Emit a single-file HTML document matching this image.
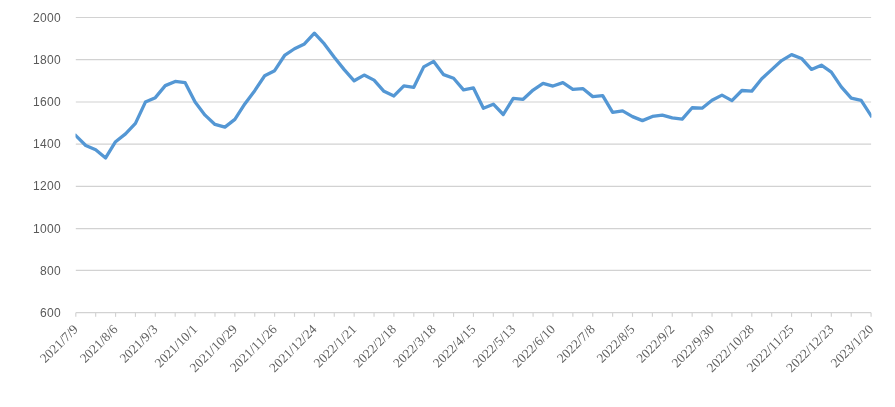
<!DOCTYPE html>
<html><head><meta charset="utf-8"><title>chart</title>
<style>
html,body{margin:0;padding:0;background:#fff;}
body{width:895px;height:407px;overflow:hidden;}
svg{display:block;will-change:transform;}
.yl{font-family:"Liberation Sans",sans-serif;font-size:12px;letter-spacing:0.35px;fill:#595959;text-anchor:end;}
.xl{font-family:"Liberation Serif",serif;font-size:13.3px;fill:#606060;text-anchor:end;}
</style></head><body>
<svg width="895" height="407" viewBox="0 0 895 407">
<rect width="895" height="407" fill="#ffffff"/>
<g stroke="#d2d2d2" stroke-width="1.15" fill="none">
<line x1="75.80" y1="17.50" x2="871.10" y2="17.50"/>
<line x1="75.80" y1="59.65" x2="871.10" y2="59.65"/>
<line x1="75.80" y1="102.00" x2="871.10" y2="102.00"/>
<line x1="75.80" y1="144.10" x2="871.10" y2="144.10"/>
<line x1="75.80" y1="186.40" x2="871.10" y2="186.40"/>
<line x1="75.80" y1="228.55" x2="871.10" y2="228.55"/>
<line x1="75.80" y1="270.35" x2="871.10" y2="270.35"/>
<line x1="75.80" y1="312.60" x2="871.10" y2="312.60"/>
<line x1="75.80" y1="312.65" x2="75.80" y2="316.85"/>
<line x1="95.68" y1="312.65" x2="95.68" y2="316.85"/>
<line x1="115.56" y1="312.65" x2="115.56" y2="316.85"/>
<line x1="135.45" y1="312.65" x2="135.45" y2="316.85"/>
<line x1="155.33" y1="312.65" x2="155.33" y2="316.85"/>
<line x1="175.21" y1="312.65" x2="175.21" y2="316.85"/>
<line x1="195.09" y1="312.65" x2="195.09" y2="316.85"/>
<line x1="214.98" y1="312.65" x2="214.98" y2="316.85"/>
<line x1="234.86" y1="312.65" x2="234.86" y2="316.85"/>
<line x1="254.74" y1="312.65" x2="254.74" y2="316.85"/>
<line x1="274.62" y1="312.65" x2="274.62" y2="316.85"/>
<line x1="294.51" y1="312.65" x2="294.51" y2="316.85"/>
<line x1="314.39" y1="312.65" x2="314.39" y2="316.85"/>
<line x1="334.27" y1="312.65" x2="334.27" y2="316.85"/>
<line x1="354.16" y1="312.65" x2="354.16" y2="316.85"/>
<line x1="374.04" y1="312.65" x2="374.04" y2="316.85"/>
<line x1="393.92" y1="312.65" x2="393.92" y2="316.85"/>
<line x1="413.80" y1="312.65" x2="413.80" y2="316.85"/>
<line x1="433.69" y1="312.65" x2="433.69" y2="316.85"/>
<line x1="453.57" y1="312.65" x2="453.57" y2="316.85"/>
<line x1="473.45" y1="312.65" x2="473.45" y2="316.85"/>
<line x1="493.33" y1="312.65" x2="493.33" y2="316.85"/>
<line x1="513.22" y1="312.65" x2="513.22" y2="316.85"/>
<line x1="533.10" y1="312.65" x2="533.10" y2="316.85"/>
<line x1="552.98" y1="312.65" x2="552.98" y2="316.85"/>
<line x1="572.86" y1="312.65" x2="572.86" y2="316.85"/>
<line x1="592.75" y1="312.65" x2="592.75" y2="316.85"/>
<line x1="612.63" y1="312.65" x2="612.63" y2="316.85"/>
<line x1="632.51" y1="312.65" x2="632.51" y2="316.85"/>
<line x1="652.39" y1="312.65" x2="652.39" y2="316.85"/>
<line x1="672.27" y1="312.65" x2="672.27" y2="316.85"/>
<line x1="692.16" y1="312.65" x2="692.16" y2="316.85"/>
<line x1="712.04" y1="312.65" x2="712.04" y2="316.85"/>
<line x1="731.92" y1="312.65" x2="731.92" y2="316.85"/>
<line x1="751.80" y1="312.65" x2="751.80" y2="316.85"/>
<line x1="771.69" y1="312.65" x2="771.69" y2="316.85"/>
<line x1="791.57" y1="312.65" x2="791.57" y2="316.85"/>
<line x1="811.45" y1="312.65" x2="811.45" y2="316.85"/>
<line x1="831.33" y1="312.65" x2="831.33" y2="316.85"/>
<line x1="851.22" y1="312.65" x2="851.22" y2="316.85"/>
<line x1="871.10" y1="312.65" x2="871.10" y2="316.85"/>
</g>
<g class="yl">
<text x="61.15" y="21.85">2000</text>
<text x="61.15" y="64.01">1800</text>
<text x="61.15" y="106.16">1600</text>
<text x="61.15" y="148.32">1400</text>
<text x="61.15" y="190.48">1200</text>
<text x="61.15" y="232.64">1000</text>
<text x="61.15" y="274.79">800</text>
<text x="61.15" y="316.95">600</text>
</g>
<g class="xl">
<text transform="translate(78.80,330.15) rotate(-45)">2021/7/9</text>
<text transform="translate(118.56,330.15) rotate(-45)">2021/8/6</text>
<text transform="translate(158.33,330.15) rotate(-45)">2021/9/3</text>
<text transform="translate(198.09,330.15) rotate(-45)">2021/10/1</text>
<text transform="translate(237.86,330.15) rotate(-45)">2021/10/29</text>
<text transform="translate(277.62,330.15) rotate(-45)">2021/11/26</text>
<text transform="translate(317.39,330.15) rotate(-45)">2021/12/24</text>
<text transform="translate(357.16,330.15) rotate(-45)">2022/1/21</text>
<text transform="translate(396.92,330.15) rotate(-45)">2022/2/18</text>
<text transform="translate(436.69,330.15) rotate(-45)">2022/3/18</text>
<text transform="translate(476.45,330.15) rotate(-45)">2022/4/15</text>
<text transform="translate(516.22,330.15) rotate(-45)">2022/5/13</text>
<text transform="translate(555.98,330.15) rotate(-45)">2022/6/10</text>
<text transform="translate(595.75,330.15) rotate(-45)">2022/7/8</text>
<text transform="translate(635.51,330.15) rotate(-45)">2022/8/5</text>
<text transform="translate(675.27,330.15) rotate(-45)">2022/9/2</text>
<text transform="translate(715.04,330.15) rotate(-45)">2022/9/30</text>
<text transform="translate(754.80,330.15) rotate(-45)">2022/10/28</text>
<text transform="translate(794.57,330.15) rotate(-45)">2022/11/25</text>
<text transform="translate(834.33,330.15) rotate(-45)">2022/12/23</text>
<text transform="translate(874.10,330.15) rotate(-45)">2023/1/20</text>
</g>
<clipPath id="pc"><rect x="75.50" y="0" width="795.90" height="330"/></clipPath>
<polyline clip-path="url(#pc)" points="75.80,135.59 85.74,145.50 95.68,149.71 105.62,157.93 115.56,141.70 125.51,133.90 135.45,123.36 145.39,102.08 155.33,97.65 165.27,85.63 175.21,81.42 185.15,82.68 195.09,102.08 205.04,115.14 214.98,124.42 224.92,127.16 234.86,119.36 244.80,103.97 254.74,90.69 264.68,75.73 274.62,70.67 284.57,55.49 294.51,48.75 304.45,43.90 314.39,33.15 324.33,43.90 334.27,57.18 344.21,69.61 354.16,80.79 364.10,75.09 374.04,80.15 383.98,91.32 393.92,95.96 403.86,85.84 413.80,87.32 423.74,66.87 433.69,61.39 443.63,74.67 453.57,78.26 463.51,89.85 473.45,87.95 483.39,108.19 493.33,104.18 503.27,114.51 513.22,98.28 523.16,99.33 533.10,90.06 543.04,83.32 552.98,86.06 562.92,82.68 572.86,89.43 582.80,88.58 592.75,96.59 602.69,95.54 612.63,112.40 622.57,110.93 632.51,116.62 642.45,120.62 652.39,116.41 662.33,115.14 672.27,117.88 682.22,119.15 692.16,107.77 702.10,108.19 712.04,100.18 721.98,95.12 731.92,100.60 741.86,90.48 751.80,91.11 761.75,78.68 771.69,69.61 781.63,60.55 791.57,54.65 801.51,58.44 811.45,69.40 821.39,65.19 831.33,72.14 841.28,86.90 851.22,98.07 861.16,100.39 871.10,115.78" fill="none" stroke="#5497d4" stroke-width="3.3" stroke-linejoin="round" stroke-linecap="square"/>
</svg>
</body></html>
